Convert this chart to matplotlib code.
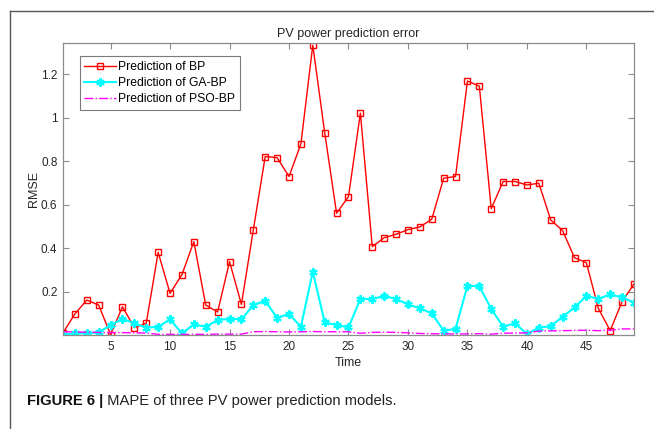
import matplotlib
matplotlib.use("Agg")
import matplotlib.pyplot as plt
from matplotlib.lines import Line2D

plt.rcParams["font.family"] = ["Liberation Sans", "DejaVu Sans"]

# ── Data ──────────────────────────────────────────────────────────────────────
time = list(range(1, 50))

bp = [0.010, 0.097, 0.161, 0.138, 0.002, 0.130, 0.034, 0.054, 0.381, 0.192,
      0.278, 0.430, 0.138, 0.106, 0.338, 0.141, 0.484, 0.822, 0.817, 0.730,
      0.880, 1.335, 0.932, 0.561, 0.637, 1.022, 0.407, 0.448, 0.464, 0.485,
      0.498, 0.533, 0.722, 0.730, 1.170, 1.146, 0.582, 0.707, 0.707, 0.691,
      0.699, 0.530, 0.481, 0.356, 0.333, 0.123, 0.020, 0.154, 0.235]

ga_bp = [0.000, 0.008, 0.008, 0.012, 0.046, 0.074, 0.054, 0.034, 0.038, 0.072,
         0.008, 0.049, 0.038, 0.069, 0.075, 0.072, 0.137, 0.158, 0.078, 0.097,
         0.038, 0.292, 0.058, 0.046, 0.035, 0.166, 0.166, 0.180, 0.166, 0.141,
         0.123, 0.100, 0.020, 0.028, 0.227, 0.224, 0.120, 0.038, 0.054, 0.005,
         0.034, 0.041, 0.084, 0.127, 0.180, 0.166, 0.187, 0.173, 0.149]

pso_bp = [0.015, 0.014, 0.013, 0.012, 0.011, 0.011, 0.010, 0.009, 0.003, 0.003,
          0.003, 0.003, 0.003, 0.004, 0.004, 0.004, 0.015, 0.016, 0.015, 0.014,
          0.015, 0.016, 0.015, 0.015, 0.015, 0.008, 0.012, 0.013, 0.012, 0.010,
          0.007, 0.006, 0.005, 0.005, 0.005, 0.006, 0.004, 0.008, 0.009, 0.010,
          0.018, 0.019, 0.020, 0.021, 0.022, 0.020, 0.022, 0.028, 0.028]

x_ticks = [5, 10, 15, 20, 25, 30, 35, 40, 45]
y_ticks = [0.2, 0.4, 0.6, 0.8, 1.0, 1.2]
y_tick_labels = ["0.2", "0.4", "0.6", "0.8", "1", "1.2"]

# ── Figure ────────────────────────────────────────────────────────────────────
fig = plt.figure(figsize=(6.54, 4.29), dpi=100, facecolor="white")
ax = fig.add_axes([0.0963, 0.2191, 0.8731, 0.6807])

ax.plot(time, bp, color="red", lw=1.0, marker="s", ms=5, mfc="none",
        mec="red", mew=1.0, label="Prediction of BP")
ax.plot(time, ga_bp, color="cyan", lw=1.5, marker=(6, 2, 0), ms=6,
        mec="cyan", mew=1.5, label="Prediction of GA-BP")
ax.plot(time, pso_bp, color="magenta", lw=1.0, ls="-.",
        label="Prediction of PSO-BP")

ax.set_xlim(1, 49)
ax.set_ylim(0, 1.345)
ax.set_xticks(x_ticks)
ax.set_yticks(y_ticks)
ax.set_yticklabels(y_tick_labels)

spine_c = "#8c8c8c"
for s in ax.spines.values():
    s.set_color(spine_c)
    s.set_linewidth(0.9)
ax.tick_params(direction="in", length=4, width=0.8, color=spine_c,
               labelsize=8.5, labelcolor="#262626", top=True, right=True,
               pad=4)

ax.set_title("PV power prediction error", fontsize=9, color="#262626", pad=4)
ax.set_xlabel("Time", fontsize=9, color="#262626", labelpad=3)
ax.set_ylabel("RMSE", fontsize=9, color="#262626", labelpad=1)

leg = ax.legend(loc="upper left", bbox_to_anchor=(0.029, 0.955), fontsize=8.7,
                frameon=True, fancybox=False, borderpad=0.4, labelspacing=0.35,
                handlelength=2.6, handletextpad=0.2, borderaxespad=0)
leg.get_frame().set_edgecolor("#5a5a5a")
leg.get_frame().set_linewidth(0.8)

# outer panel border (top and left edges)
fig.add_artist(Line2D([9.5 / 654, 9.5 / 654], [0, 1 - 10.5 / 429],
                      transform=fig.transFigure, color="#555555", lw=1.0))
fig.add_artist(Line2D([9.5 / 654, 1], [1 - 10.5 / 429, 1 - 10.5 / 429],
                      transform=fig.transFigure, color="#555555", lw=1.0))

# caption: bold label, then the rest placed right after it
lab = fig.text(27 / 654, 1 - 405 / 429, "FIGURE 6 |", fontsize=10.6,
               fontweight="bold", color="#111111",
               va="baseline", ha="left")
ax.annotate(" MAPE of three PV power prediction models.", xy=(1, 0),
            xycoords=lab, fontsize=10.6, color="#222222",
            va="bottom", ha="left", annotation_clip=False)

fig.savefig("out.png", dpi=100)
